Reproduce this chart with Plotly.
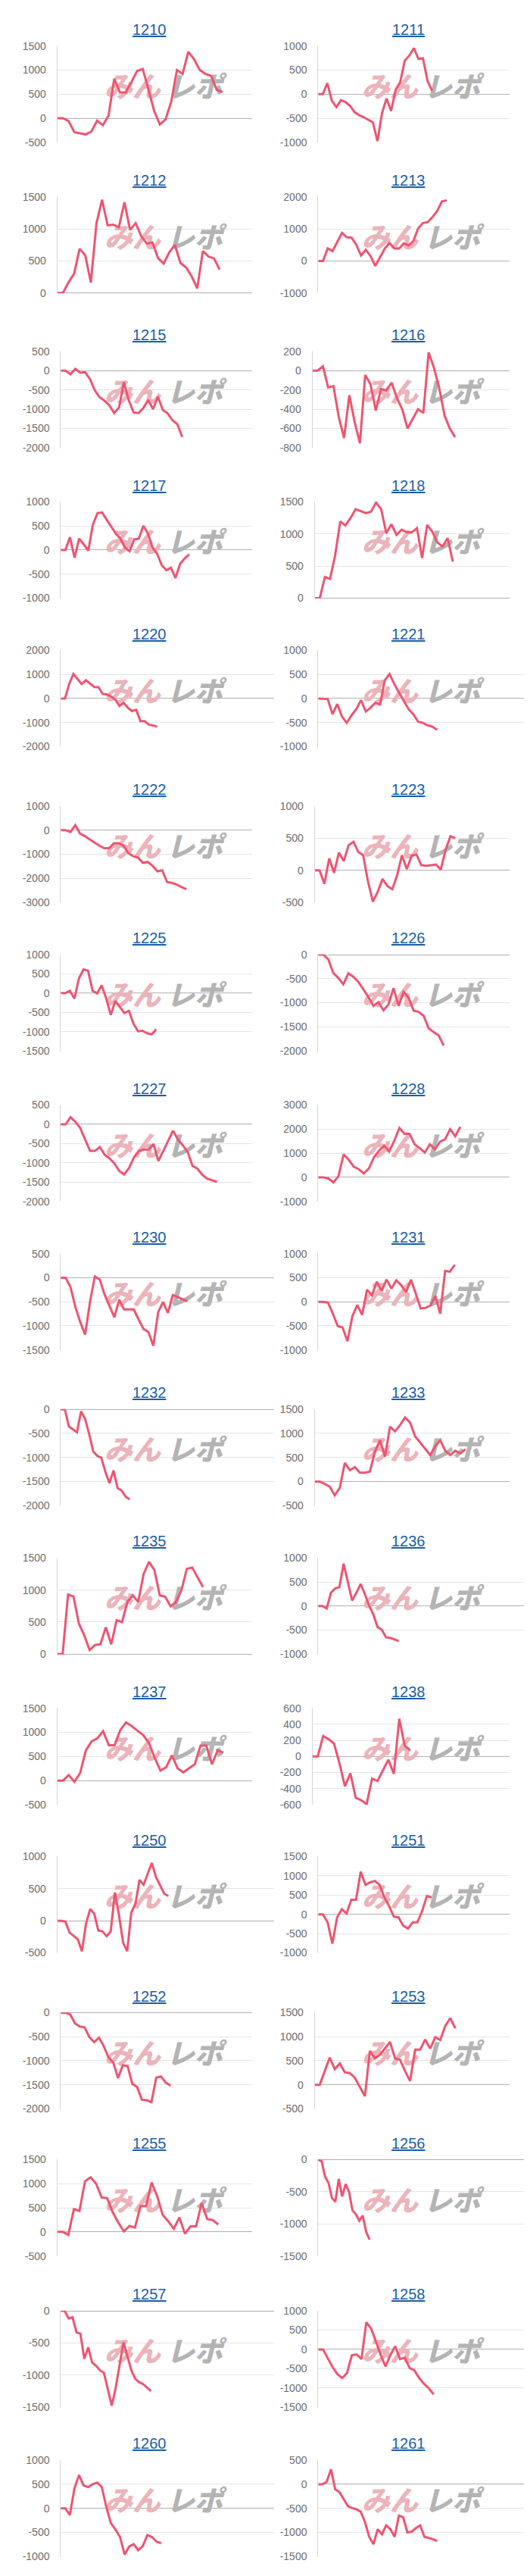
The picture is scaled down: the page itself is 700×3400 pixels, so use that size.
import plotly.graph_objects as go

# ---------------- data ----------------
codes = ["1210", "1211", "1212", "1213", "1215", "1216", "1217", "1218",
         "1220", "1221", "1222", "1223", "1225", "1226", "1227", "1228",
         "1230", "1231", "1232", "1233", "1235", "1236", "1237", "1238",
         "1250", "1251", "1252", "1253", "1255", "1256", "1257", "1258",
         "1260", "1261"]

s1210 = [0, 0, -60, -290, -315, -335, -275, -50, -145, 50, 820, 535, 535, 745, 980, 1025, 600, 155, -130, -25, 340, 1000, 920, 1380, 1225, 1005, 920, 880, 585, 545]
s1211 = [0, 0, 225, -140, -270, -125, -165, -245, -375, -440, -480, -530, -585, -975, -400, -90, -350, 95, 250, 695, 800, 955, 730, 745, 275, 70]
s1212 = [0, 0, 165, 300, 690, 590, 165, 1085, 1455, 1055, 1065, 1025, 1415, 985, 1090, 885, 770, 790, 545, 460, 635, 750, 470, 400, 260, 75, 655, 570, 540, 365]
s1213 = [0, 0, 390, 310, 590, 875, 740, 725, 510, 170, 350, 155, -155, 115, 390, 560, 390, 390, 545, 485, 625, 1015, 1185, 1210, 1365, 1560, 1855, 1890]
s1215 = [0, 0, -95, 45, -55, -40, -215, -510, -690, -780, -900, -1100, -955, -300, -770, -1085, -1100, -970, -760, -1000, -675, -1020, -1110, -1290, -1390, -1720]
s1216 = [0, 0, 45, -175, -160, -480, -700, -255, -530, -755, -45, -140, -415, -190, -205, -125, -285, -400, -600, -505, -400, -440, 190, 30, -180, -465, -600, -690]
s1217 = [0, 0, 265, -160, 235, 120, -15, 525, 765, 780, 630, 475, 340, 235, 50, -25, 220, 235, 500, 340, 50, -80, -315, -420, -370, -580, -290, -175, -90]
s1218 = [0, 0, 330, 300, 665, 1195, 1130, 1245, 1385, 1355, 1325, 1345, 1490, 1385, 1010, 1150, 985, 1065, 1025, 1025, 1090, 625, 1140, 1035, 865, 805, 935, 570]
s1220 = [0, 0, 600, 1020, 810, 600, 760, 625, 480, 470, 190, 170, 85, -40, -310, -175, -385, -520, -470, -940, -940, -1085, -1115, -1170]
s1221 = [0, 0, -10, -325, -115, -375, -505, -350, -220, -35, -270, -190, -90, -125, 380, 510, 300, 120, -60, -220, -325, -480, -505, -555, -585, -650]
s1222 = [0, 0, -75, 210, -145, -250, -385, -520, -645, -750, -750, -540, -540, -645, -960, -1085, -1145, -1355, -1320, -1480, -1710, -1665, -2155, -2190, -2260, -2365, -2450]
s1223 = [0, 0, -210, 185, -40, 275, 145, 390, 445, 285, 235, -175, -490, -335, -135, -245, -295, -80, 235, 20, 225, 245, 80, 70, 80, 90, 10, 315, 530, 500]
s1225 = [0, 0, 60, -140, 385, 615, 585, 60, -5, 205, -140, -565, -205, -365, -515, -460, -790, -990, -975, -1040, -1070, -935]
s1226 = [0, 0, -95, -380, -485, -615, -390, -460, -565, -720, -880, -1065, -985, -1155, -1035, -695, -1065, -775, -895, -1165, -1190, -1270, -1530, -1610, -1680, -1890]
s1227 = [0, 0, 185, 65, -100, -395, -690, -690, -590, -790, -885, -1015, -1215, -1300, -1130, -855, -690, -655, -655, -510, -950, -690, -425, -165, -395, -545, -720, -1080, -1150, -1310, -1410, -1455, -1495]
s1228 = [0, 0, -50, -210, 50, 945, 735, 440, 335, 160, 370, 840, 1105, 1315, 1075, 1525, 2050, 1810, 1810, 1370, 1210, 1030, 1370, 1160, 1475, 1580, 2000, 1705, 2100]
s1230 = [0, 0, -195, -610, -920, -1180, -505, 25, -35, -350, -585, -820, -455, -660, -660, -660, -870, -1065, -1130, -1415, -715, -505, -730, -360, -400, -440, -490]
s1231 = [0, 0, -15, -245, -505, -535, -820, -300, -65, -270, 250, 135, 415, 225, 460, 275, 445, 345, 200, 460, 170, -140, -125, -75, 120, -245, 640, 625, 770]
s1232 = [0, 0, -355, -410, -475, -40, -200, -510, -875, -965, -1005, -1295, -1530, -1270, -1635, -1685, -1815, -1870]
s1233 = [0, 0, -50, -105, -285, -130, 390, 235, 300, 185, 185, 210, 625, 860, 520, 1140, 1045, 1175, 1330, 1225, 940, 810, 670, 550, 730, 860, 640, 550, 640, 585, 670]
s1235 = [0, 0, 930, 900, 480, 295, 65, 145, 155, 420, 155, 530, 500, 815, 915, 815, 1250, 1440, 1310, 915, 895, 745, 815, 995, 1330, 1350, 1195, 1045]
s1236 = [0, 0, -50, 275, 365, 395, 880, 510, 115, 275, 460, 250, 10, -175, -435, -490, -650, -660, -690, -725]
s1237 = [0, 0, 115, -25, 160, 630, 815, 880, 1025, 735, 735, 1050, 1210, 1130, 1035, 945, 780, 475, 210, 275, 525, 255, 170, 255, 340, 725, 725, 340, 630, 580]
s1238 = [0, 0, 255, 215, 160, -85, -370, -210, -515, -545, -595, -275, -305, -165, -40, -215, 470, 135, 75]
s1250 = [0, 0, -15, -185, -235, -290, -475, -45, 180, 110, -155, -165, -240, -165, 440, 90, -340, -475, 130, 265, 635, 560, 735, 900, 680, 540, 420, 385]
s1251 = [0, 0, -210, -760, -80, 135, 20, 375, 375, 1110, 765, 830, 865, 765, 440, 215, -60, -80, -295, -370, -210, -210, 85, 475, 440]
s1252 = [0, 0, -40, -225, -290, -305, -510, -615, -520, -695, -930, -1035, -1360, -1095, -1110, -1480, -1545, -1810, -1820, -1860, -1350, -1325, -1455, -1515]
s1253 = [0, 0, 285, 565, 325, 445, 260, 245, 145, -40, -235, 705, 550, 625, 755, 890, 550, 520, 285, 80, 730, 730, 940, 755, 990, 930, 1225, 1385, 1175]
s1255 = [0, 0, -60, 475, 435, 1050, 1135, 1000, 715, 700, 405, 195, 10, 125, 90, 535, 535, 1025, 740, 350, 220, 65, 300, -40, 115, 115, 595, 270, 245, 155]
s1256 = [0, -25, -265, -360, -595, -655, -300, -575, -380, -500, -790, -850, -950, -870, -1125, -1245]
s1257 = [0, 0, -120, -100, -335, -355, -745, -570, -805, -855, -925, -965, -1220, -1475, -1200, -825, -490, -705, -925, -1060, -1110, -1140, -1200, -1250]
s1258 = [0, 0, -235, -460, -645, -745, -610, -150, -130, -250, 705, 540, 210, -150, -445, -150, 80, -250, -215, -480, -545, -745, -895, -1010, -1170]
s1260 = [0, 0, -140, 415, 690, 475, 440, 500, 535, 440, 25, -310, -440, -595, -960, -795, -745, -870, -780, -555, -595, -690, -725]
s1261 = [0, 0, 50, 310, -105, -165, -310, -455, -495, -520, -570, -780, -1090, -1245, -935, -1040, -855, -935, -1090, -650, -685, -1000, -985, -910, -855, -1090, -1115, -1140, -1180]

series = [s1210, s1211, s1212, s1213, s1215, s1216, s1217, s1218,
          s1220, s1221, s1222, s1223, s1225, s1226, s1227, s1228,
          s1230, s1231, s1232, s1233, s1235, s1236, s1237, s1238,
          s1250, s1251, s1252, s1253, s1255, s1256, s1257, s1258,
          s1260, s1261]

# y-axis tick ranges
y_min = [-500, -1000, 0, -1000, -2000, -800, -1000, 0, -2000, -1000, -3000, -500, -1500, -2000, -2000, -1000,
         -1500, -1000, -2000, -500, 0, -1000, -500, -600, -500, -1000, -2000, -500, -500, -1500, -1500, -1500,
         -1000, -1500]
y_max = [1500, 1000, 1500, 2000, 500, 200, 1000, 1500, 2000, 1000, 1000, 1000, 1000, 0, 500, 3000,
         500, 1000, 0, 1500, 1500, 1000, 1500, 600, 1000, 1500, 0, 1500, 1500, 0, 0, 1000,
         1000, 500]
y_step = [500, 500, 500, 1000, 500, 200, 500, 500, 1000, 500, 1000, 500, 500, 500, 500, 1000,
          500, 500, 500, 500, 500, 500, 500, 200, 500, 500, 500, 500, 500, 500, 500, 500,
          500, 500]

# horizontal axis length (in data steps) of each chart
x_span = [34.2, 42.0, 34.8, 40.2, 39.4, 37.3, 41.7, 38.1, 50.9, 45.0, 39.6, 40.2, 42.1, 38.1, 39.2, 37.7,
          43.8, 39.2, 52.6, 38.8, 36.1, 50.5, 34.0, 36.3, 52.7, 40.5, 40.1, 38.8, 35.1, 62.5, 54.4, 44.5,
          46.8, 50.4]

# charts whose plot area is wider
wide_charts = ["1220", "1221", "1230", "1232", "1236", "1250", "1256", "1257", "1258", "1260", "1261"]

# ---------------- layout constants ----------------
W, H = 700, 3400
ROW_H = 200
title_offset = [22, 22, 27, 26.5, 23.5, 30, 27, 26.5, 23.5, 30, 27, 26.5, 23, 30, 25, 25.5, 23.5]
LINE_COLOR = "#ee5470"
TITLE_COLOR = "#1b5ea6"
TICK_COLOR = "#6e6e6e"
GRID_COLOR = "#e4e4e4"
ZERO_COLOR = "#b0b0b0"
AXIS_LINE = "#d6d6d6"
FONT = "Liberation Sans, Arial, sans-serif"
WM_FONT = "Noto Sans CJK JP"
WM_PINK = "#ebb4ba"
WM_GRAY = "#b4b4b4"


def label_w(s):
    return sum(4.66 if c == "-" else 7.78 for c in s)


fig = go.Figure()
layout = {}
annotations = []

for k, code in enumerate(codes):
    row, col = divmod(k, 2)
    sid = "" if k == 0 else str(k + 1)
    xa, ya = "x" + sid, "y" + sid

    tickvals = list(range(y_min[k], y_max[k] + 1, y_step[k]))
    ticktext = [str(v) for v in tickvals]
    wmax = max(label_w(t) for t in ticktext)
    is_wide = code in wide_charts
    if col == 0:
        L = 36.5 + wmax
        R = 354 if is_wide else 325
        tx = 190
        wm1, wm2 = 167, 249
    else:
        L = 376.5 + wmax
        R = 695 if is_wide else 665
        tx = 531
        wm1, wm2 = 507, 589

    t_y = row * ROW_H + title_offset[row]
    top = t_y + 22.5
    bot = t_y + 151
    wm_y = t_y + 81

    span = x_span[k]
    yr = y_max[k] - y_min[k]
    eps = yr * 0.003

    def px2x(px):
        return (px - L) / (R - L) * span

    def py2y(py):
        return y_min[k] + (bot - py) / (bot - top) * yr

    # watermark (behind the line)
    fig.add_trace(go.Scatter(
        x=[px2x(wm1)], y=[py2y(wm_y)], mode="text", text=["みん"],
        textfont=dict(family=WM_FONT, size=37, color=WM_PINK, weight=900, style="italic"),
        xaxis=xa, yaxis=ya, hoverinfo="skip", showlegend=False))
    fig.add_trace(go.Scatter(
        x=[px2x(wm2)], y=[py2y(wm_y)], mode="text", text=["レポ"],
        textfont=dict(family=WM_FONT, size=37, color=WM_GRAY, weight=900, style="italic"),
        xaxis=xa, yaxis=ya, hoverinfo="skip", showlegend=False))

    vals = series[k]
    fig.add_trace(go.Scatter(
        x=list(range(len(vals))), y=vals, mode="lines",
        line=dict(color=LINE_COLOR, width=3),
        xaxis=xa, yaxis=ya, hoverinfo="skip", showlegend=False))

    layout["xaxis" + sid] = dict(
        domain=[L / W, R / W], range=[0, span], anchor=ya,
        showgrid=False, zeroline=False, showticklabels=False, showline=False,
        ticks="", fixedrange=True)
    layout["yaxis" + sid] = dict(
        domain=[1 - bot / H, 1 - top / H], range=[y_min[k] - eps, y_max[k] + eps], anchor=xa,
        tickmode="array", tickvals=tickvals, ticktext=ticktext,
        showgrid=True, gridcolor=GRID_COLOR, gridwidth=1,
        zeroline=True, zerolinecolor=ZERO_COLOR, zerolinewidth=1,
        showline=True, linecolor=AXIS_LINE, linewidth=1,
        ticks="outside", ticklen=11, tickcolor="rgba(0,0,0,0)",
        tickfont=dict(family=FONT, size=14, color=TICK_COLOR),
        fixedrange=True)

    annotations.append(dict(
        text="<u>" + code + "</u>", x=tx / W, y=1 - (t_y + 1) / H,
        xref="paper", yref="paper", xanchor="center", yanchor="middle",
        showarrow=False, font=dict(family=FONT, size=20, color=TITLE_COLOR)))

fig.update_layout(
    width=W, height=H, autosize=False,
    margin=dict(l=0, r=0, t=0, b=0),
    paper_bgcolor="white", plot_bgcolor="white",
    showlegend=False, hovermode=False,
    annotations=annotations,
    **layout)

fig.write_html("out.html")
